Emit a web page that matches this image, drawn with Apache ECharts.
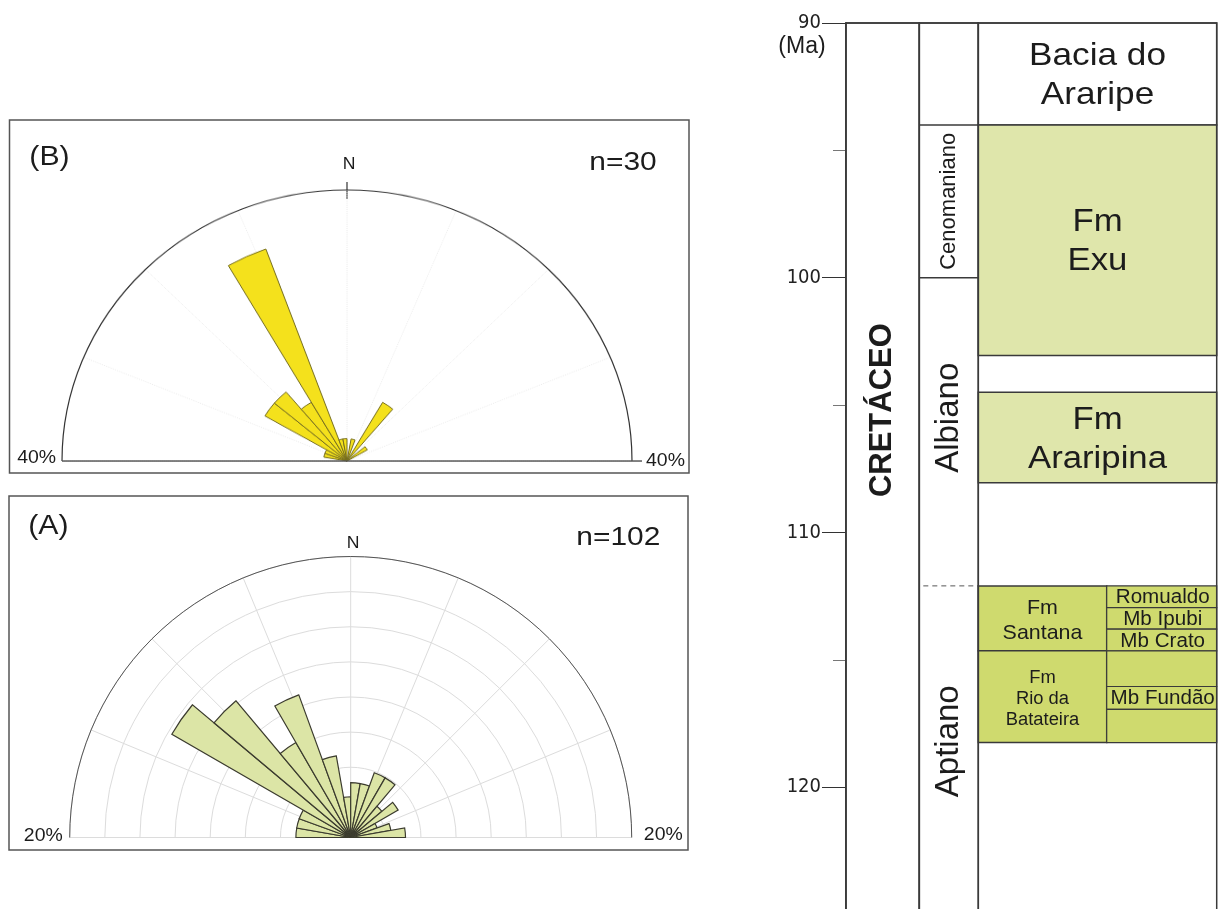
<!DOCTYPE html>
<html>
<head>
<meta charset="utf-8">
<title>Paleocorrentes e coluna estratigráfica – Bacia do Araripe</title>
<script src="https://cdn.jsdelivr.net/npm/echarts@6/dist/echarts.min.js"></script>
<style>
  html, body { margin: 0; padding: 0; background: #fff; }
  #main { position: absolute; left: 0; top: 0; width: 1224px; height: 909px; }
  /* rose (B) is drawn on a slightly flattened layer */
  #roseB { position: absolute; left: 0; top: 115px; width: 700px; height: 360px;
           transform-origin: 0 346px; transform: scaleY(0.951); }
</style>
</head>
<body>
<div id="main"></div>
<div id="roseB"></div>
<script>
// ---------------- Rose diagrams: 10° sectors from W through N to E ----------------
const sectors = ['270–280', '280–290', '290–300', '300–310', '310–320', '320–330',
                 '330–340', '340–350', '350–360', '0–10', '10–20', '20–30',
                 '30–40', '40–50', '50–60', '60–70', '70–80', '80–90'];
// (A) n = 102, percentage of readings per sector
const roseA = [3.9, 3.9, 3.9, 14.7, 12.7, 7.8, 10.8, 5.9, 2.9,
               3.9, 3.9, 4.9, 4.9, 2.9, 3.9, 2.0, 2.9, 3.9];
// (B) n = 30, percentage of readings per sector
const roseB = [0, 3.3, 3.3, 13.3, 13.3, 10.0, 33.3, 3.3, 3.3,
               0, 3.3, 0, 10.0, 0, 3.3, 0, 0, 0];
const roseAMax = 20, roseBMax = 40;          // outer circle, %
const roseACount = 'n=102', roseBCount = 'n=30';

// ---------------- Stratigraphic column (Ma) ----------------
const sectionTop = 90, sectionBase = 125;
const ageTickLabels = ['90', '100', '110', '120'];
const eraNames = ['CRETÁCEO'];
const eraTop = [90], eraBase = [125];
const stageNames = ['', 'Cenomaniano', 'Albiano', 'Aptiano'];
const stageTop  = [90, 94.0, 100.0, 112.1];
const stageBase = [94.0, 100.0, 112.1, 125];
const basinName = 'Bacia do\nAraripe';
const formationNames = ['Fm\nExu', 'Fm\nAraripina', 'Fm\nSantana', 'Fm\nRio da\nBatateira'];
const formationTop  = [94.0, 104.5, 112.1, 114.65];
const formationBase = [103.05, 108.05, 114.65, 118.25];
const memberNames = ['Romualdo', 'Mb Ipubi', 'Mb Crato', '', 'Mb Fundão', ''];
const memberTop  = [112.1, 112.95, 113.8, 114.65, 116.05, 116.95];
const memberBase = [112.95, 113.8, 114.65, 116.05, 116.95, 118.25];

// ---------------- layout / styles ----------------
const FONT = '"Liberation Sans", Arial, Helvetica, sans-serif';
const NARROW = '"Liberation Sans Narrow", "DejaVu Sans Condensed", "Arial Narrow", "Liberation Sans", sans-serif';
const INK = '#1c1c1c';
const LINE = '#3a3a3a';
// column edges in px from the age axis
const COL = { era: [0, 73.3], stage: [73.3, 132.3], fm: [132.3, 260.7], mb: [260.7, 370.7], fmFull: [132.3, 370.7] };
// where a label sits when it is not centred in its interval (Ma)
const labelAnchor = { 'CRETÁCEO': 105.2, 'Albiano': 105.5, 'Aptiano': 118.2 };
const stageFont = { 'Cenomaniano': 22 };
const dashedTop = { 'Aptiano': true };
const FILL_LIGHT = '#dfe6ab', FILL_DARK = '#cfda6e';

function box(api, xr, top, base) {
  const a = api.coord([xr[0], top]);
  const b = api.coord([xr[1], base]);
  return { x: a[0], y: a[1], width: b[0] - a[0], height: b[1] - a[1] };
}
function hasMembers(top, base) {
  return memberTop.some(t => t >= top - 1e-6 && t < base - 1e-6);
}
function textEl(x, y, text, size, extra) {
  extra = extra || {};
  return {
    type: 'text', x: x, y: y,
    rotation: extra.rotation || 0,
    scaleX: extra.scaleX || 1,
    z: 10,
    style: {
      text: text, fontSize: size, fontFamily: extra.family || FONT,
      fontWeight: extra.weight || 'normal', fill: INK,
      align: 'center', verticalAlign: 'middle',
      lineHeight: extra.lineHeight || Math.round(size * 1.2)
    }
  };
}

// ---------------- main chart: rose (A) + column ----------------
const chart = echarts.init(document.getElementById('main'));
const A_CENTER = [350.7, 837.5], A_R = 281;

const option = {
  animation: false,
  backgroundColor: '#fff',
  polar: [
    { center: A_CENTER, radius: A_R },
    { center: A_CENTER, radius: A_R }
  ],
  angleAxis: [
    { polarIndex: 0, type: 'value', min: -90, max: 90, interval: 22.5,
      startAngle: 180, endAngle: 0, clockwise: true,
      axisLine: { show: true, lineStyle: { color: '#555', width: 1 } },
      axisTick: { show: false }, axisLabel: { show: false },
      splitLine: { show: true, lineStyle: { color: '#dcdcdc', width: 1 } } },
    { polarIndex: 1, type: 'category', data: sectors,
      startAngle: 180, endAngle: 0, clockwise: true,
      axisLine: { show: false }, axisTick: { show: false }, axisLabel: { show: false },
      splitLine: { show: false } }
  ],
  radiusAxis: [
    { polarIndex: 0, type: 'value', min: 0, max: roseAMax, interval: 2.5,
      axisLine: { show: false }, axisTick: { show: false }, axisLabel: { show: false },
      splitLine: { show: true, lineStyle: { color: '#dcdcdc', width: 1 } } },
    { polarIndex: 1, type: 'value', min: 0, max: roseAMax,
      axisLine: { show: false }, axisTick: { show: false }, axisLabel: { show: false },
      splitLine: { show: false } }
  ],
  // age axis runs on past the bottom edge (only 90–125 Ma is in view)
  grid: { left: 846, top: 23, width: 370.7, height: 1018.8, outerBoundsMode: 'none', containLabel: false },
  xAxis: { type: 'value', min: 0, max: 370.7, show: false },
  yAxis: {
    type: 'value', inverse: true, min: 90, max: 130, interval: 10,
    axisLine: { show: true, lineStyle: { color: '#222', width: 1.5 } },
    axisTick: { show: true, length: 24, lineStyle: { color: '#333', width: 1 } },
    minorTick: { show: true, splitNumber: 2, length: 13, lineStyle: { color: '#777', width: 1 } },
    axisLabel: {
      margin: 25, fontFamily: NARROW, fontSize: 20, color: '#222',
      formatter: v => ageTickLabels.indexOf(String(v)) >= 0 ? String(v) : ''
    },
    splitLine: { show: false }
  },
  series: [
    // rose (A) sectors
    { type: 'bar', coordinateSystem: 'polar', polarIndex: 1, data: roseA,
      barCategoryGap: '0%', silent: true, z: 3,
      itemStyle: { color: '#dce5a6', borderColor: '#3b3b2e', borderWidth: 1.2 } },
    // basin heading
    { type: 'custom', coordinateSystem: 'cartesian2d', z: 2, silent: true,
      data: [[sectionTop, formationTop[0]]],
      renderItem: (p, api) => {
        const r = box(api, COL.fmFull, api.value(0), api.value(1));
        return { type: 'group', children: [
          { type: 'rect', shape: r, style: { fill: '#fff', stroke: LINE, lineWidth: 1.5 } },
          textEl(r.x + r.width / 2, r.y + r.height / 2 + 2, basinName, 32, { scaleX: 1.1, lineHeight: 39 })
        ] };
      } },
    // era
    { type: 'custom', coordinateSystem: 'cartesian2d', z: 2, silent: true,
      data: eraNames.map((n, i) => [eraTop[i], eraBase[i]]),
      renderItem: (p, api) => {
        const name = eraNames[p.dataIndex];
        const r = box(api, COL.era, api.value(0), api.value(1));
        const at = labelAnchor[name] != null ? labelAnchor[name] : (api.value(0) + api.value(1)) / 2;
        const cy = api.coord([0, at])[1];
        return { type: 'group', children: [
          { type: 'rect', shape: r, style: { fill: '#fff', stroke: LINE, lineWidth: 1.5 } },
          textEl(r.x + r.width / 2, cy, name, 31, { rotation: Math.PI / 2, weight: 'bold' })
        ] };
      } },
    // stages
    { type: 'custom', coordinateSystem: 'cartesian2d', z: 2, silent: true,
      data: stageNames.map((n, i) => [stageTop[i], stageBase[i]]),
      renderItem: (p, api) => {
        const name = stageNames[p.dataIndex];
        const r = box(api, COL.stage, api.value(0), api.value(1));
        const at = labelAnchor[name] != null ? labelAnchor[name] : (api.value(0) + api.value(1)) / 2;
        const cy = api.coord([0, at])[1];
        const kids = [
          { type: 'line', shape: { x1: r.x + (dashedTop[name] ? 4 : 0), y1: r.y, x2: r.x + r.width, y2: r.y },
            style: { stroke: dashedTop[name] ? '#555' : LINE, lineWidth: dashedTop[name] ? 1 : 1.5,
                     lineDash: dashedTop[name] ? [5, 4] : null } }
        ];
        if (name) kids.push(textEl(r.x + r.width / 2, cy, name, stageFont[name] || 33, { rotation: Math.PI / 2 }));
        return { type: 'group', children: kids };
      } },
    // formations
    { type: 'custom', coordinateSystem: 'cartesian2d', z: 2, silent: true,
      data: formationNames.map((n, i) => [formationTop[i], formationBase[i]]),
      renderItem: (p, api) => {
        const name = formationNames[p.dataIndex];
        const top = api.value(0), base = api.value(1);
        const split = hasMembers(top, base);
        const r = box(api, split ? COL.fm : COL.fmFull, top, base);
        const lines = name.split('\n').length;
        let size = 31, lh = 39, sx = 1.12;
        if (split) { size = lines > 2 ? 18 : 21; lh = lines > 2 ? 21 : 25; sx = 1.02; }
        return { type: 'group', children: [
          { type: 'rect', shape: r, style: { fill: split ? FILL_DARK : FILL_LIGHT, stroke: LINE, lineWidth: 1.5 } },
          textEl(r.x + r.width / 2, r.y + r.height / 2 + 2, name, size, { scaleX: sx, lineHeight: lh })
        ] };
      } },
    // members
    { type: 'custom', coordinateSystem: 'cartesian2d', z: 2, silent: true,
      data: memberNames.map((n, i) => [memberTop[i], memberBase[i]]),
      renderItem: (p, api) => {
        const name = memberNames[p.dataIndex];
        const r = box(api, COL.mb, api.value(0), api.value(1));
        const kids = [{ type: 'rect', shape: r, style: { fill: FILL_DARK, stroke: LINE, lineWidth: 1.2 } }];
        if (name) kids.push(textEl(r.x + r.width / 2 + 1, r.y + r.height / 2 + 1, name, 20, { scaleX: 1.03 }));
        return { type: 'group', children: kids };
      } },
    // column outlines
    { type: 'custom', coordinateSystem: 'cartesian2d', z: 4, silent: true,
      data: [[sectionTop, sectionBase]],
      renderItem: (p, api) => ({
        type: 'group',
        children: [COL.era, COL.stage, COL.fmFull].map(c => ({
          type: 'rect', shape: box(api, c, api.value(0), api.value(1)),
          style: { fill: 'none', stroke: LINE, lineWidth: 1.5 }
        }))
      }) }
  ],
  graphic: [
    // panel frames
    { type: 'rect', shape: { x: 9.5, y: 120, width: 679.5, height: 353 },
      style: { fill: 'none', stroke: '#555', lineWidth: 1.5 } },
    { type: 'rect', shape: { x: 9, y: 496, width: 679, height: 354 },
      style: { fill: 'none', stroke: '#555', lineWidth: 1.5 } },
    // north mark of (B)
    { type: 'line', shape: { x1: 347, y1: 182, x2: 347, y2: 199 },
      style: { stroke: '#333', lineWidth: 1.2 } },
    textEl(49.5, 157.5, '(B)', 27, { scaleX: 1.12 }),
    textEl(623, 162.5, roseBCount, 26, { scaleX: 1.15 }),
    textEl(349, 165, 'N', 16, { scaleX: 1.1 }),
    textEl(36.7, 458.5, roseBMax + '%', 18, { scaleX: 1.08 }),
    textEl(665.5, 461.5, roseBMax + '%', 18, { scaleX: 1.08 }),
    textEl(48.3, 526.5, '(A)', 27, { scaleX: 1.12 }),
    textEl(618.3, 538.3, roseACount, 26, { scaleX: 1.15 }),
    textEl(353, 543.3, 'N', 16, { scaleX: 1.1 }),
    textEl(43.3, 836.5, roseAMax + '%', 18, { scaleX: 1.08 }),
    textEl(663.3, 835, roseAMax + '%', 18, { scaleX: 1.08 }),
    textEl(802, 47, '(Ma)', 23, {})
  ]
};
chart.setOption(option);

// ---------------- rose (B) ----------------
const chartB = echarts.init(document.getElementById('roseB'));
const B_CENTER = [347, 346], B_R = 285;
chartB.setOption({
  animation: false,
  polar: [
    { center: B_CENTER, radius: B_R },
    { center: B_CENTER, radius: B_R }
  ],
  angleAxis: [
    { polarIndex: 0, type: 'value', min: -90, max: 90, interval: 22.5,
      startAngle: 180, endAngle: 0, clockwise: true,
      axisLine: { show: true, lineStyle: { color: '#333', width: 1.2 } },
      axisTick: { show: false }, axisLabel: { show: false },
      splitLine: { show: true, lineStyle: { color: '#ececec', width: 1, type: 'dotted' } } },
    { polarIndex: 1, type: 'category', data: sectors,
      startAngle: 180, endAngle: 0, clockwise: true,
      axisLine: { show: false }, axisTick: { show: false }, axisLabel: { show: false },
      splitLine: { show: false } }
  ],
  radiusAxis: [
    { polarIndex: 0, type: 'value', min: 0, max: roseBMax,
      axisLine: { show: false }, axisTick: { show: false }, axisLabel: { show: false },
      splitLine: { show: false } },
    { polarIndex: 1, type: 'value', min: 0, max: roseBMax,
      axisLine: { show: false }, axisTick: { show: false }, axisLabel: { show: false },
      splitLine: { show: false } }
  ],
  series: [
    { type: 'bar', coordinateSystem: 'polar', polarIndex: 1, data: roseB,
      barCategoryGap: '0%', silent: true, z: 3,
      itemStyle: { color: '#f4e11c', borderColor: '#756d1e', borderWidth: 1 } }
  ],
  graphic: [
    { type: 'line', z: 100, shape: { x1: 62, y1: 346, x2: 642, y2: 346 },
      style: { stroke: '#555', lineWidth: 1.3 } }
  ]
});
</script>
</body>
</html>
